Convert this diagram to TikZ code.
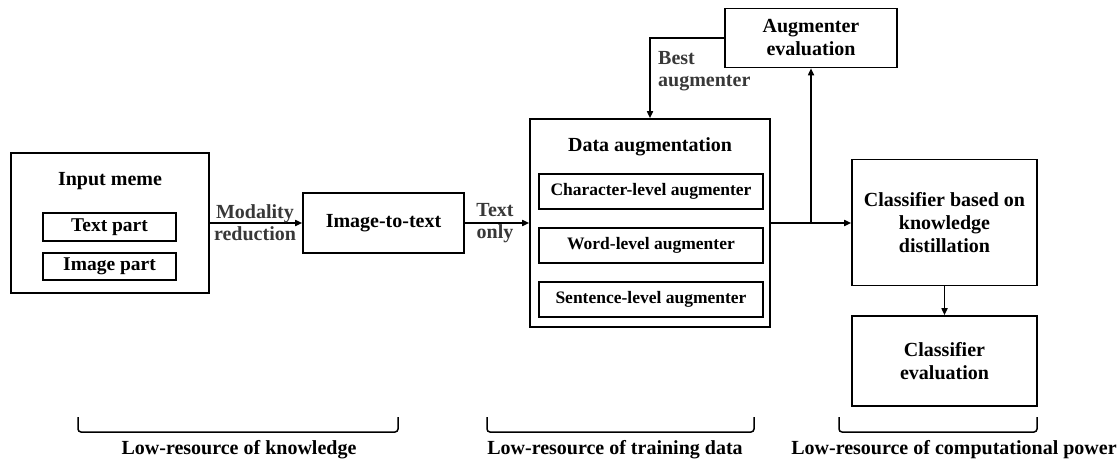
\documentclass[tikz,border=0pt]{standalone}
\usepackage{fontspec}
\setmainfont{Liberation Serif}
\usetikzlibrary{arrows.meta}
\definecolor{lblgray}{HTML}{383838}
\tikzset{
  box/.style={draw, line width=1.6pt, inner sep=0pt, align=center, font=\bfseries\fontsize{20}{23}\selectfont},
  inbox/.style={draw, line width=1.6pt, inner sep=0pt, align=center, font=\bfseries\fontsize{17.5}{20}\selectfont},
  partbox/.style={inbox, font=\bfseries\fontsize{19.5}{22}\selectfont},
  ttl/.style={inner sep=0pt, font=\bfseries\fontsize{20}{23}\selectfont},
  lbl/.style={inner sep=0pt, align=center, text=lblgray, font=\bfseries\fontsize{20}{22}\selectfont},
  brlbl/.style={inner sep=0pt, font=\bfseries\fontsize{20}{23}\selectfont},
  conn/.style={line width=1.6pt, -{Triangle[length=7pt,width=6pt]}},
  brace/.style={line width=1.5pt, rounded corners=3pt}
}
\begin{document}
\begin{tikzpicture}[x=1pt,y=-1pt]
\useasboundingbox (0,0) rectangle (1120,465);
% input meme
\node[box, minimum width=198pt, minimum height=140pt] (inmeme) at (110,223) {};
\node[ttl] (inmemet) at (110,181) {Input meme};
\node[partbox, minimum width=133pt, minimum height=28pt] (textpart) at (109.5,227) {Text part};
\node[partbox, minimum width=133pt, minimum height=27pt] (imagepart) at (109.5,266.5) {Image part};
% image to text
\node[box, minimum width=161pt, minimum height=60pt] (imgtxt) at (383.5,223) {Image-to-text};
% data augmentation
\node[box, minimum width=240pt, minimum height=208pt] (dataaug) at (650,223) {};
\node[ttl] (dataaugt) at (650,147) {Data augmentation};
\node[inbox, minimum width=224pt, minimum height=35pt] (charaug) at (651,191.5) {Character-level augmenter};
\node[inbox, minimum width=224pt, minimum height=35pt] (wordaug) at (651,245.5) {Word-level augmenter};
\node[inbox, minimum width=224pt, minimum height=35pt] (sentaug) at (651,299.5) {Sentence-level augmenter};
% augmenter evaluation
\node[box, minimum width=172pt, minimum height=59pt] (augeval) at (811,38) {Augmenter\\evaluation};
% classifiers
\node[box, minimum width=185pt, minimum height=126pt] (kd) at (944.5,222.5) {Classifier based on\\knowledge\\distillation};
\node[box, minimum width=185pt, minimum height=90pt] (clseval) at (944.5,361) {Classifier\\evaluation};
% connectors
\draw[conn] (inmeme.east |- 0,223) -- (imgtxt.west |- 0,223);
\node[lbl] (modlbl) at (255,223) {Modality\\reduction};
\draw[conn] (imgtxt.east |- 0,223) -- (dataaug.west |- 0,223);
\node[lbl] (txtlbl) at (495,223) {Text\\only};
\coordinate (junc) at (811,223);
\draw[conn] (dataaug.east |- 0,223) -- (kd.west |- 0,223);
\draw[conn] (junc) -- (augeval.south);
\draw[conn] (augeval.west) -| (dataaug.north);
\node[lbl, align=left, anchor=west] (bestlbl) at (658,71) {Best\\augmenter};
\draw[conn] (kd.south) -- (clseval.north);
% braces
\draw[brace] (78,417) -- (78,432) -- (398,432) -- (398,417);
\draw[brace] (487,417) -- (487,432) -- (754,432) -- (754,417);
\draw[brace] (839,417) -- (839,432) -- (1037,432) -- (1037,417);
\node[brlbl] (b1) at (239,450) {Low-resource of knowledge};
\node[brlbl] (b2) at (615,450) {Low-resource of training data};
\node[brlbl] (b3) at (954,450) {Low-resource of computational power};
\end{tikzpicture}
\end{document}
